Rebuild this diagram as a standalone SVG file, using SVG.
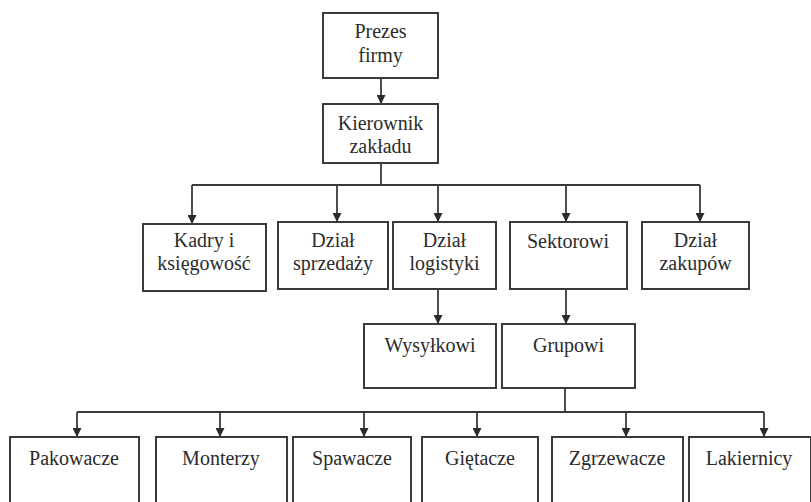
<svg xmlns="http://www.w3.org/2000/svg" width="811" height="502" viewBox="0 0 811 502">
  <style>
    .box { fill: #ffffff; stroke: #3a3a3a; stroke-width: 2; }
    .lbl { font-family: 'Liberation Serif', 'Times New Roman', 'DejaVu Serif', serif; font-size: 20px; fill: #2b2b2b; text-anchor: middle; }
    .wire { fill: none; stroke: #3a3a3a; stroke-width: 1.8; }
  </style>
  <defs>
    <marker id="arrow" markerUnits="userSpaceOnUse" markerWidth="9" markerHeight="9" refX="9" refY="4.5" orient="auto">
      <path d="M0,0 L9,4.5 L0,9 z" fill="#2b2b2b"/>
    </marker>
  </defs>
  <rect width="811" height="502" fill="#ffffff"/>

  <!-- connectors -->
  <g id="connectors" class="wire">
    <line x1="381" y1="78" x2="381" y2="104" marker-end="url(#arrow)"/>
    <line x1="381" y1="163" x2="381" y2="185"/>
    <line x1="192" y1="185" x2="700" y2="185"/>
    <line x1="192" y1="185" x2="192" y2="224" marker-end="url(#arrow)"/>
    <line x1="337" y1="185" x2="337" y2="222" marker-end="url(#arrow)"/>
    <line x1="438" y1="185" x2="438" y2="222" marker-end="url(#arrow)"/>
    <line x1="566" y1="185" x2="566" y2="222" marker-end="url(#arrow)"/>
    <line x1="700" y1="185" x2="700" y2="222" marker-end="url(#arrow)"/>
    <line x1="438" y1="289" x2="438" y2="324" marker-end="url(#arrow)"/>
    <line x1="566" y1="289" x2="566" y2="324" marker-end="url(#arrow)"/>
    <line x1="565" y1="388" x2="565" y2="412"/>
    <line x1="77" y1="412" x2="764" y2="412"/>
    <line x1="77" y1="412" x2="77" y2="437" marker-end="url(#arrow)"/>
    <line x1="220" y1="412" x2="220" y2="437" marker-end="url(#arrow)"/>
    <line x1="364" y1="412" x2="364" y2="437" marker-end="url(#arrow)"/>
    <line x1="477" y1="412" x2="477" y2="437" marker-end="url(#arrow)"/>
    <line x1="626" y1="412" x2="626" y2="437" marker-end="url(#arrow)"/>
    <line x1="764" y1="412" x2="764" y2="437" marker-end="url(#arrow)"/>
  </g>

  <!-- management -->
  <g id="prezes">
    <rect class="box" x="323" y="13" width="115" height="65"/>
    <text class="lbl" x="380.5" y="38">Prezes</text>
    <text class="lbl" x="380.5" y="62">firmy</text>
  </g>
  <g id="kierownik">
    <rect class="box" x="323" y="104" width="115" height="59"/>
    <text class="lbl" x="380.5" y="130">Kierownik</text>
    <text class="lbl" x="380.5" y="153">zakładu</text>
  </g>

  <!-- departments -->
  <g id="kadry">
    <rect class="box" x="143" y="224" width="123" height="67"/>
    <text class="lbl" x="204" y="247">Kadry i</text>
    <text class="lbl" x="204" y="270">księgowość</text>
  </g>
  <g id="sprzedaz">
    <rect class="box" x="278" y="222" width="110" height="67"/>
    <text class="lbl" x="333" y="247">Dział</text>
    <text class="lbl" x="333" y="270">sprzedaży</text>
  </g>
  <g id="logistyka">
    <rect class="box" x="393" y="222" width="103" height="67"/>
    <text class="lbl" x="444.5" y="247">Dział</text>
    <text class="lbl" x="444.5" y="270">logistyki</text>
  </g>
  <g id="sektorowi">
    <rect class="box" x="510" y="222" width="117" height="67"/>
    <text class="lbl" x="568" y="248">Sektorowi</text>
  </g>
  <g id="zakupy">
    <rect class="box" x="642" y="222" width="107" height="67"/>
    <text class="lbl" x="695.5" y="247">Dział</text>
    <text class="lbl" x="695.5" y="270">zakupów</text>
  </g>

  <!-- middle level -->
  <g id="wysylkowi">
    <rect class="box" x="364" y="324" width="132" height="64"/>
    <text class="lbl" x="430" y="352">Wysyłkowi</text>
  </g>
  <g id="grupowi">
    <rect class="box" x="502" y="324" width="133" height="64"/>
    <text class="lbl" x="568.5" y="352">Grupowi</text>
  </g>

  <!-- workers -->
  <g id="pakowacze">
    <rect class="box" x="10" y="437" width="129" height="80"/>
    <text class="lbl" x="74" y="465">Pakowacze</text>
  </g>
  <g id="monterzy">
    <rect class="box" x="156" y="437" width="131" height="80"/>
    <text class="lbl" x="221" y="465">Monterzy</text>
  </g>
  <g id="spawacze">
    <rect class="box" x="293" y="437" width="118" height="80"/>
    <text class="lbl" x="352" y="465">Spawacze</text>
  </g>
  <g id="gietacze">
    <rect class="box" x="422" y="437" width="116" height="80"/>
    <text class="lbl" x="480" y="465">Giętacze</text>
  </g>
  <g id="zgrzewacze">
    <rect class="box" x="552" y="437" width="131" height="80"/>
    <text class="lbl" x="617" y="465">Zgrzewacze</text>
  </g>
  <g id="lakiernicy">
    <rect class="box" x="689" y="437" width="122" height="80"/>
    <text class="lbl" x="749" y="465">Lakiernicy</text>
  </g>
</svg>
